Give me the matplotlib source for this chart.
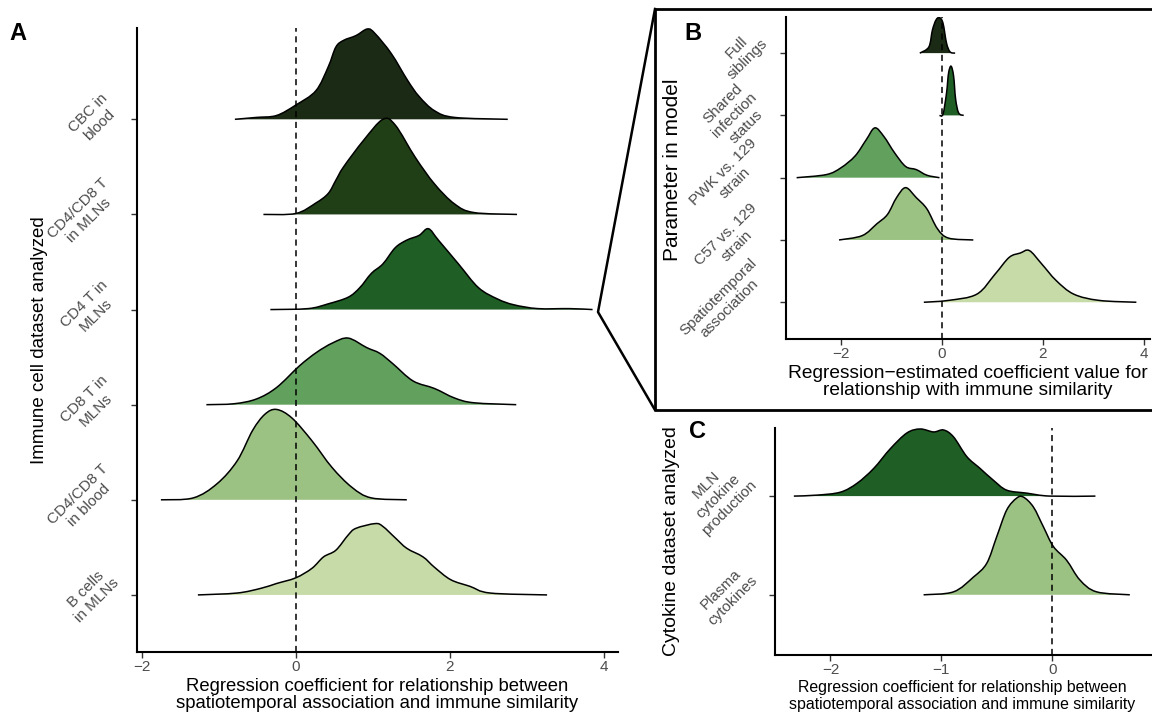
import matplotlib
matplotlib.use("Agg")
import matplotlib.pyplot as plt
from matplotlib.lines import Line2D
from matplotlib.path import Path
from matplotlib.patches import PathPatch

plt.rcParams['font.family'] = ['Liberation Sans', 'DejaVu Sans']

# ---- Panel A: immune cell datasets (top to bottom) ----
a_labels = ["CBC in\nblood", "CD4/CD8 T\nin MLNs", "CD4 T in\nMLNs",
            "CD8 T in\nMLNs", "CD4/CD8 T\nin blood", "B cells\nin MLNs"]
a_colors = ["#1b2a15", "#213f17", "#1f5e24", "#62a05e", "#9bc283", "#c6dba7"]
a_x = [
    [-0.79, -0.51, -0.25, 0.0, 0.26, 0.42, 0.52, 0.62, 0.78, 0.93, 1.03, 1.24, 1.45, 1.60, 1.80, 2.06, 2.75],
    [-0.42, 0.0, 0.26, 0.42, 0.52, 0.62, 0.88, 1.13, 1.29, 1.55, 1.80, 2.06, 2.31, 2.87],
    [-0.33, 0.16, 0.42, 0.68, 0.83, 0.98, 1.13, 1.29, 1.44, 1.60, 1.72, 1.85, 2.11, 2.37, 2.62, 2.83, 3.14, 3.55, 3.85],
    [-1.16, -0.80, -0.51, -0.25, 0.05, 0.27, 0.48, 0.68, 0.92, 1.09, 1.26, 1.52, 1.80, 2.06, 2.31, 2.86],
    [-1.75, -1.33, -1.02, -0.76, -0.56, -0.40, -0.25, -0.05, 0.21, 0.47, 0.73, 0.98, 1.44],
    [-1.27, -0.76, -0.45, -0.25, 0.0, 0.21, 0.36, 0.52, 0.68, 0.78, 1.03, 1.13, 1.29, 1.44, 1.65, 1.80, 2.01, 2.26, 2.52, 3.26],
]
a_h = [
    [0, 0.02, 0.04, 0.15, 0.30, 0.55, 0.76, 0.83, 0.88, 0.95, 0.90, 0.69, 0.41, 0.24, 0.09, 0.02, 0],
    [0, 0.01, 0.12, 0.22, 0.36, 0.50, 0.78, 1.0, 0.94, 0.60, 0.32, 0.11, 0.02, 0],
    [0, 0.01, 0.06, 0.13, 0.23, 0.38, 0.48, 0.65, 0.73, 0.78, 0.85, 0.73, 0.48, 0.23, 0.11, 0.05, 0.01, 0.01, 0],
    [0, 0.01, 0.06, 0.18, 0.41, 0.55, 0.65, 0.70, 0.60, 0.54, 0.43, 0.25, 0.17, 0.07, 0.02, 0],
    [0, 0.02, 0.17, 0.41, 0.73, 0.90, 0.95, 0.86, 0.62, 0.34, 0.13, 0.02, 0],
    [0, 0.02, 0.07, 0.12, 0.18, 0.28, 0.40, 0.47, 0.63, 0.70, 0.75, 0.72, 0.60, 0.49, 0.40, 0.29, 0.16, 0.09, 0.02, 0],
]

# ---- Panel B: model parameters ----
b_labels = ["Full\nsiblings", "Shared\ninfection\nstatus", "PWK vs. 129\nstrain",
            "C57 vs. 129\nstrain", "Spatiotemporal\nassociation"]
b_colors = ["#1b2a15", "#1f5e24", "#62a05e", "#9bc283", "#c6dba7"]
b_x = [
    [-0.44, -0.26, -0.19, -0.12, -0.05, 0.02, 0.09, 0.16, 0.26],
    [-0.05, 0.02, 0.09, 0.13, 0.18, 0.23, 0.27, 0.33, 0.43],
    [-2.88, -2.29, -2.0, -1.72, -1.50, -1.33, -1.15, -0.94, -0.72, -0.51, -0.30, -0.05],
    [-2.04, -1.58, -1.29, -1.08, -0.90, -0.72, -0.51, -0.30, -0.09, 0.13, 0.62],
    [-0.36, 0.13, 0.69, 1.05, 1.33, 1.55, 1.73, 1.97, 2.26, 2.61, 3.11, 3.85],
]
b_h = [
    [0, 0.10, 0.37, 0.53, 0.57, 0.48, 0.16, 0.02, 0],
    [0, 0.02, 0.36, 0.68, 0.79, 0.63, 0.26, 0.04, 0],
    [0, 0.05, 0.16, 0.35, 0.61, 0.80, 0.66, 0.40, 0.18, 0.13, 0.04, 0],
    [0, 0.07, 0.26, 0.41, 0.68, 0.84, 0.68, 0.50, 0.18, 0.03, 0],
    [0, 0.03, 0.13, 0.45, 0.72, 0.79, 0.83, 0.62, 0.35, 0.13, 0.03, 0],
]

# ---- Panel C: cytokine datasets ----
c_labels = ["MLN\ncytokine\nproduction", "Plasma\ncytokines"]
c_colors = ["#1f5e24", "#9bc283"]
c_x = [
    [-2.33, -2.12, -1.91, -1.76, -1.61, -1.46, -1.31, -1.19, -1.07, -0.98, -0.89, -0.77, -0.65, -0.53, -0.41, -0.23, -0.02, 0.39],
    [-1.16, -0.89, -0.71, -0.59, -0.50, -0.41, -0.32, -0.26, -0.17, -0.08, 0.01, 0.13, 0.25, 0.40, 0.70],
]
c_h = [
    [0, 0.01, 0.04, 0.13, 0.28, 0.48, 0.64, 0.68, 0.65, 0.67, 0.60, 0.40, 0.28, 0.16, 0.06, 0.03, 0.0, 0],
    [0, 0.03, 0.18, 0.32, 0.59, 0.86, 0.98, 0.99, 0.89, 0.69, 0.49, 0.35, 0.15, 0.03, 0],
]

W, H = 1152, 715
fig = plt.figure(figsize=(W / 100, H / 100), dpi=100)


def px_axes(left, top, right, bottom):
    return fig.add_axes([left / W, 1 - bottom / H, (right - left) / W, (bottom - top) / H])


def curve_path(xs, ys):
    # smooth cubic (Catmull-Rom style) path through the read-off points
    pts = list(zip(xs, ys))
    verts, codes = [pts[0]], [Path.MOVETO]
    n = len(pts)
    for i in range(n - 1):
        p0 = pts[i - 1] if i > 0 else pts[i]
        p1, p2 = pts[i], pts[i + 1]
        p3 = pts[i + 2] if i + 2 < n else pts[i + 1]
        c1 = (p1[0] + (p2[0] - p0[0]) / 6, p1[1] + (p2[1] - p0[1]) / 6)
        c2 = (p2[0] - (p3[0] - p1[0]) / 6, p2[1] - (p3[1] - p1[1]) / 6)
        verts += [c1, c2, p2]
        codes += [Path.CURVE4] * 3
    return verts, codes


def ridges(ax, labels, xs, hs, colors):
    n = len(labels)
    for i in range(n):
        base = n - i
        verts, codes = curve_path(xs[i], [base + h for h in hs[i]])
        fverts = verts + [(xs[i][-1], base), (xs[i][0], base), (xs[i][0], base)]
        fcodes = codes + [Path.LINETO, Path.LINETO, Path.CLOSEPOLY]
        ax.add_patch(PathPatch(Path(fverts, fcodes), facecolor=colors[i],
                               edgecolor='none', zorder=2 + i))
        ax.add_patch(PathPatch(Path(verts, codes), fill=False, edgecolor='black',
                               lw=1.1, zorder=2.5 + i))
    ax.axvline(0, color='black', ls=(0, (4, 3)), lw=1.1, zorder=50)
    ax.set_yticks(range(n, 0, -1))
    ax.set_yticklabels(labels, rotation=45, ha='right', va='center',
                       multialignment='center', color='#4d4d4d', fontsize=11.5)
    for s in ['top', 'right']:
        ax.spines[s].set_visible(False)
    for s in ['left', 'bottom']:
        ax.spines[s].set_linewidth(1.5)
    ax.tick_params(axis='both', length=4, width=1, color='#333333',
                   labelcolor='#4d4d4d', labelsize=11)
    ax.tick_params(axis='y', pad=7)
    ax.tick_params(axis='x', pad=1.5)


# Panel A
axA = px_axes(137, 28, 618, 652)
ridges(axA, a_labels, a_x, a_h, a_colors)
axA.set_xlim(-2.06, 4.18)
axA.set_ylim(0.4, 6.96)
axA.set_xticks([-2, 0, 2, 4])

# Panel B
axB = px_axes(786, 17, 1150, 339)
ridges(axB, b_labels, b_x, b_h, b_colors)
axB.set_xlim(-3.09, 4.12)
axB.set_ylim(0.41, 5.58)
axB.set_xticks([-2, 0, 2, 4])

# Panel C
axC = px_axes(775, 428, 1152, 655)
ridges(axC, c_labels, c_x, c_h, c_colors)
axC.set_xlim(-2.5, 0.9)
axC.set_ylim(0.39, 2.69)
axC.set_xticks([-2, -1, 0])


def ftext(x, y, s, **kw):
    fig.text(x / W, 1 - y / H, s, ha='center', va='center', **kw)


# axis titles
ftext(377, 695, "Regression coefficient for relationship between\nspatiotemporal association and immune similarity",
      fontsize=13.3, linespacing=1.05)
ftext(40, 340, "Immune cell dataset analyzed", fontsize=13.5, rotation=90)
ftext(968, 382, "Regression\u2212estimated coefficient value for\nrelationship with immune similarity",
      fontsize=13.8, linespacing=1.05)
ftext(672, 170, "Parameter in model", fontsize=15, rotation=90)
ftext(962, 696, "Regression coefficient for relationship between\nspatiotemporal association and immune similarity",
      fontsize=11.4, linespacing=1.1)
ftext(672, 541, "Cytokine dataset analyzed", fontsize=14, rotation=90)


# Box around panel B and zoom lines from panel A
def fline(xs, ys, lw=2):
    fig.add_artist(Line2D([x / W for x in xs], [1 - y / H for y in ys],
                          color='black', lw=lw, transform=fig.transFigure))


fline([1160, 655, 655, 1160], [9, 9, 410, 410])
fline([655, 598, 655], [9, 312, 410], lw=1.8)

# Panel letters
ftext(18, 33, "A", fontsize=17, fontweight='bold')
ftext(693, 33, "B", fontsize=17, fontweight='bold')
ftext(698, 432, "C", fontsize=17, fontweight='bold')

fig.savefig("out.png", dpi=100, facecolor='white')
